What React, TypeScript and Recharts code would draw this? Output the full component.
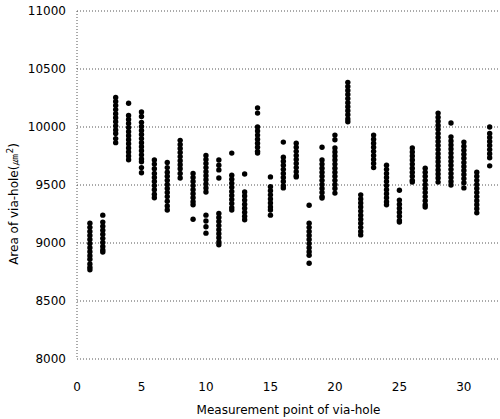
import React from 'react';
import { ScatterChart, Scatter, XAxis, YAxis, CartesianGrid } from 'recharts';

const measurementPoints = [1, 2, 3, 4, 5, 6, 7, 8, 9, 10, 11, 12, 13, 14, 15, 16, 17, 18, 19, 20, 21, 22, 23, 24, 25, 26, 27, 28, 29, 30, 31, 32];

const areaSamples: number[][] = [
  [9170, 9135, 9100, 9065, 9030, 8995, 8960, 8925, 8890, 8860, 8820, 8790, 8770],
  [9240, 9180, 9145, 9110, 9075, 9040, 9005, 8970, 8940, 8922],
  [10255, 10220, 10185, 10150, 10115, 10080, 10045, 10010, 9975, 9945, 9900, 9865],
  [10205, 10100, 10065, 10030, 9995, 9960, 9925, 9890, 9855, 9820, 9785, 9750, 9718],
  [10130, 10090, 10040, 10005, 9970, 9935, 9900, 9865, 9830, 9795, 9760, 9725, 9700, 9650, 9605],
  [9715, 9680, 9640, 9600, 9565, 9530, 9495, 9460, 9420, 9390],
  [9695, 9650, 9610, 9575, 9540, 9505, 9470, 9435, 9400, 9360, 9320, 9285],
  [9885, 9850, 9815, 9780, 9745, 9710, 9675, 9640, 9600, 9560],
  [9600, 9565, 9530, 9495, 9460, 9425, 9390, 9355, 9330, 9205],
  [9755, 9720, 9685, 9650, 9615, 9580, 9545, 9510, 9475, 9440, 9240, 9190, 9140, 9085],
  [9715, 9670, 9630, 9560, 9255, 9220, 9185, 9150, 9115, 9080, 9045, 9010, 8985],
  [9775, 9585, 9550, 9515, 9480, 9445, 9410, 9375, 9340, 9305, 9285],
  [9595, 9440, 9405, 9370, 9335, 9300, 9265, 9230, 9200],
  [10165, 10120, 10000, 9965, 9930, 9895, 9860, 9825, 9790, 9775],
  [9570, 9485, 9450, 9415, 9380, 9345, 9310, 9285, 9240],
  [9870, 9740, 9705, 9670, 9635, 9600, 9565, 9530, 9495, 9475],
  [9860, 9825, 9790, 9755, 9720, 9685, 9650, 9615, 9580, 9570],
  [9325, 9170, 9135, 9100, 9065, 9030, 8995, 8960, 8925, 8895, 8825],
  [9825, 9715, 9680, 9645, 9610, 9575, 9540, 9505, 9470, 9435, 9400, 9388],
  [9930, 9890, 9820, 9785, 9750, 9715, 9680, 9645, 9610, 9575, 9540, 9505, 9470, 9430],
  [10385, 10350, 10315, 10280, 10245, 10210, 10175, 10140, 10105, 10070, 10045],
  [9415, 9380, 9345, 9310, 9275, 9240, 9205, 9170, 9135, 9100, 9070],
  [9930, 9895, 9860, 9825, 9790, 9755, 9720, 9685, 9650],
  [9670, 9635, 9600, 9565, 9530, 9495, 9460, 9425, 9390, 9355, 9330],
  [9455, 9370, 9335, 9300, 9265, 9230, 9195, 9180],
  [9820, 9785, 9750, 9715, 9680, 9645, 9610, 9575, 9540, 9525],
  [9645, 9610, 9575, 9540, 9505, 9470, 9435, 9400, 9365, 9330, 9310],
  [10120, 10085, 10050, 10015, 9980, 9945, 9910, 9875, 9840, 9805, 9770, 9735, 9700, 9665, 9630, 9595, 9560, 9525],
  [10035, 9915, 9880, 9845, 9810, 9775, 9740, 9705, 9670, 9635, 9600, 9565, 9530, 9500],
  [9870, 9835, 9800, 9765, 9730, 9695, 9660, 9625, 9590, 9555, 9520, 9475],
  [9610, 9575, 9540, 9505, 9470, 9435, 9400, 9365, 9330, 9295, 9260],
  [10000, 9945, 9910, 9875, 9840, 9805, 9770, 9735, 9665],
];

const xTicks = [0, 5, 10, 15, 20, 25, 30];
const yTicks = [8000, 8500, 9000, 9500, 10000, 10500, 11000];

const xTitle = 'Measurement point of via-hole';
const yTitle = 'Area of via-hole(㎛';

const data = measurementPoints.flatMap((p, i) => areaSamples[i].map((v) => ({ x: p, y: v })));

const FONT = '"DejaVu Sans", Verdana, sans-serif';

const Dot = (props: any) => <circle cx={props.cx} cy={props.cy} r={2.7} fill="#000" />;

export default function App() {
  return (
    <div style={{ position: 'absolute', left: 0, top: 0 }}>
      <ScatterChart width={500} height={419} margin={{ top: 11, right: 0, bottom: 0, left: 0 }}>
        <CartesianGrid vertical={false} stroke="#555" strokeDasharray="1 2" />
        <XAxis
          type="number"
          dataKey="x"
          domain={[0, 32.8]}
          ticks={xTicks}
          axisLine={false}
          tickLine={false}
          tickSize={6}
          tickMargin={17}
          height={60}
          tick={{ fontSize: 12, fill: '#000', fontFamily: FONT }}
          label={{
            content: (props: any) => {
              const vb = props.viewBox;
              return (
                <text x={vb.x + vb.width / 2} y={414} textAnchor="middle" fontSize={12} fontFamily={FONT} fill="#000">
                  {xTitle}
                </text>
              );
            },
          }}
        />
        <YAxis
          type="number"
          dataKey="y"
          domain={[8000, 11000]}
          ticks={yTicks}
          width={77}
          axisLine={{ stroke: '#555', strokeDasharray: '1 2' }}
          tickLine={false}
          tickSize={6}
          tickMargin={5}
          tick={{ fontSize: 12, fill: '#000', fontFamily: FONT }}
          label={{
            content: (props: any) => {
              const vb = props.viewBox;
              const cx = 14;
              const cy = vb.y + vb.height / 2 + 19;
              return (
                <text
                  x={cx}
                  y={cy}
                  transform={`rotate(-90 ${cx} ${cy})`}
                  textAnchor="middle"
                  dominantBaseline="central"
                  fontSize={12}
                  fontFamily={FONT}
                  fill="#000"
                >
                  {yTitle}
                  <tspan dy={-4} fontSize={9}>2</tspan>
                  <tspan dy={4}>)</tspan>
                </text>
              );
            },
          }}
        />
        <Scatter data={data} shape={<Dot />} isAnimationActive={false} />
      </ScatterChart>
    </div>
  );
}
